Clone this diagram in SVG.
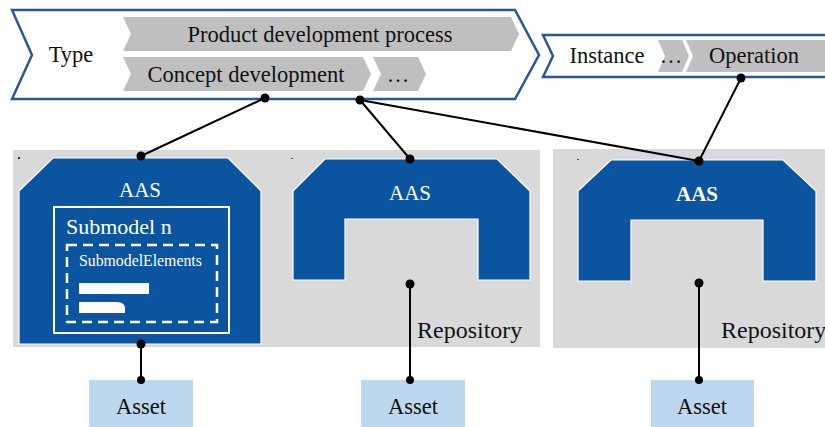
<svg xmlns="http://www.w3.org/2000/svg" width="825" height="427" viewBox="0 0 825 427" font-family="'Liberation Serif', 'Times New Roman', Tinos, 'DejaVu Serif', serif">
<defs>
<style>
text{font-family:'Liberation Serif','Times New Roman',Tinos,'DejaVu Serif',serif}
.t{font-size:22.5px;fill:#111;text-anchor:middle}
.w{fill:#fff}
.outline{fill:#fff;stroke:#2F5597;stroke-width:2.5}
.chev{fill:#BFBFBF}
.panel{fill:#D9D9D9}
.aas{fill:#0B55A0;stroke:#fff;stroke-width:1.2}
.asset{fill:#BDD7EE}
.ln{stroke:#000;stroke-width:2;fill:none}
.dot{fill:#000}
</style>
</defs>
<rect width="825" height="427" fill="#fff"/>

<g id="type">
<path class="outline" d="M12,10 H515 L539,55 L515,99 H12 L32,55 Z"/>
<text class="t" x="71" y="62">Type</text>
</g>
<g id="product-development-process">
<path class="chev" d="M123,17 H511 L519,34 L511,51 H123 L131,34 Z"/>
<text class="t" x="320" y="42">Product development process</text>
</g>
<g id="concept-development">
<path class="chev" d="M123,57 H363 L371,74 L363,91 H123 L131,74 Z"/>
<text class="t" x="246" y="82">Concept development</text>
</g>
<g id="type-more">
<path class="chev" d="M373,57 H418 L426,74 L418,91 H373 L381,74 Z"/>
<text class="t" x="398" y="82">…</text>
</g>

<g id="instance">
<path class="outline" d="M543,35 H830 V77 H543 L553,56 Z"/>
<text class="t" x="607" y="63">Instance</text>
</g>
<g id="instance-more">
<path class="chev" d="M658,40 H682 L689,56 L682,72 H658 L665,56 Z"/>
<text class="t" x="671" y="63">…</text>
</g>
<g id="operation">
<path class="chev" d="M686,40 H830 V72 H686 L693,56 Z"/>
<text class="t" x="754" y="63">Operation</text>
</g>

<g id="panel-left">
<rect class="panel" x="13" y="150" width="527" height="197"/>
<rect x="18" y="157" width="2" height="2" fill="#333"/>
<rect x="291" y="158" width="2" height="1" fill="#555"/>
</g>
<g id="panel-right">
<rect class="panel" x="553" y="149" width="275" height="199"/>
<rect x="577" y="159" width="2" height="1" fill="#555"/>
</g>

<g id="aas1">
<path class="aas" d="M53,158 H228 L261,191 V344 H19 V191 Z"/>
<text class="w" x="140" y="197" font-size="21" text-anchor="middle">AAS</text>
<rect x="54" y="207" width="175" height="126" fill="none" stroke="#fff" stroke-width="2"/>
<text class="w" x="66" y="234" font-size="22">Submodel n</text>
<rect x="67" y="245" width="150" height="77" fill="none" stroke="#fff" stroke-width="2.5" stroke-dasharray="10,6"/>
<text class="w" x="79" y="266" font-size="15.8">SubmodelElements</text>
<rect x="79" y="283" width="70" height="11" fill="#fff"/>
<path d="M79,302 H118 Q125,303 125,308 V313 H79 Z" fill="#fff"/>
</g>

<g id="aas2">
<path class="aas" d="M325,159 H497 L530,191 V280 H478 V219 H345 V280 H293 V191 Z"/>
<text class="w" x="410" y="200" font-size="21" text-anchor="middle">AAS</text>
<text class="t" x="417" y="338" style="text-anchor:start;font-size:24px">Repository</text>
</g>

<g id="aas3">
<path class="aas" d="M611,160 H783 L816,191 V281 H763 V220 H631 V281 H578 V191 Z"/>
<text class="w" x="697" y="201" font-size="21" font-weight="bold" text-anchor="middle">AAS</text>
<text class="t" x="721" y="338" style="text-anchor:start;font-size:24px">Repository</text>
</g>

<g id="asset1">
<rect class="asset" x="89" y="380" width="104" height="50"/>
<text class="t" x="141" y="414">Asset</text>
</g>
<g id="asset2">
<rect class="asset" x="361" y="380" width="104" height="50"/>
<text class="t" x="413" y="414">Asset</text>
</g>
<g id="asset3">
<rect class="asset" x="651" y="380" width="103" height="50"/>
<text class="t" x="702" y="414">Asset</text>
</g>

<g id="connectors">
<line class="ln" x1="265" y1="98" x2="141" y2="156"/>
<line class="ln" x1="360" y1="100" x2="410" y2="159"/>
<line class="ln" x1="360" y1="100" x2="699" y2="161"/>
<line class="ln" x1="741" y1="78" x2="699" y2="161"/>
<line class="ln" x1="141" y1="344" x2="141" y2="380"/>
<line class="ln" x1="410" y1="284" x2="410" y2="380"/>
<line class="ln" x1="699" y1="283" x2="699" y2="380"/>
<circle class="dot" cx="265" cy="98" r="4.5"/>
<circle class="dot" cx="360" cy="100" r="4.5"/>
<circle class="dot" cx="741" cy="78" r="4.5"/>
<circle class="dot" cx="141" cy="156" r="4.5"/>
<circle class="dot" cx="410" cy="159" r="4.5"/>
<circle class="dot" cx="699" cy="161" r="4.5"/>
<circle class="dot" cx="141" cy="344" r="4.5"/>
<circle class="dot" cx="410" cy="284" r="4.5"/>
<circle class="dot" cx="699" cy="283" r="4.5"/>
<circle class="dot" cx="141" cy="380" r="4"/>
<circle class="dot" cx="410" cy="380" r="4"/>
<circle class="dot" cx="699" cy="380" r="4"/>
</g>
</svg>
